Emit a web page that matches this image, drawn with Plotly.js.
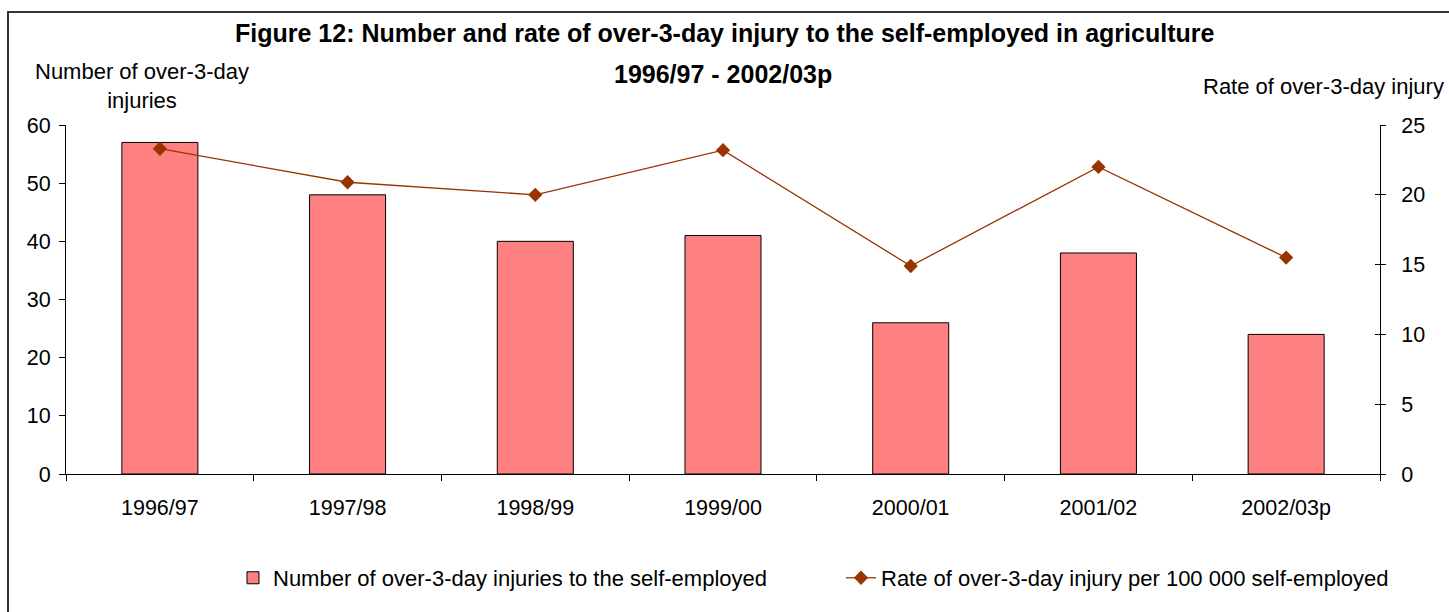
<!DOCTYPE html>
<html>
<head>
<meta charset="utf-8">
<script src="https://cdn.plot.ly/plotly-3.0.1.min.js"></script>
<style>
  html, body { margin: 0; padding: 0; background: #fff; overflow: hidden; }
  #frame { position: absolute; left: 7px; top: 11px; width: 1500px; height: 700px; border: 2px solid #333; box-sizing: border-box; pointer-events: none; z-index: 2; }
  #chart { position: absolute; left: 0; top: 0; width: 1449px; height: 612px; }
</style>
</head>
<body>
<div id="chart"></div>
<div id="frame"></div>
<script>
const categories = ["1996/97", "1997/98", "1998/99", "1999/00", "2000/01", "2001/02", "2002/03p"];
const injuries = [57, 48, 40, 41, 26, 38, 24];
const rates = [23.3, 20.9, 20.0, 23.2, 14.9, 22.0, 15.5];
const barName = "Number of over-3-day injuries to the self-employed";
const lineName = "Rate of over-3-day injury per 100 000 self-employed";

const FONT = "Liberation Sans, Arial, sans-serif";

const traces = [
  {
    type: "bar", x: categories, y: injuries, name: barName,
    marker: { color: "#FF8080", line: { color: "#000000", width: 1 } },
    hoverinfo: "y"
  },
  {
    type: "scatter", mode: "lines+markers", x: categories, y: rates, yaxis: "y2", name: lineName,
    line: { color: "#993300", width: 1.3 },
    marker: { symbol: "diamond", size: 11, color: "#993300" }
  },
  {
    type: "scatter", mode: "markers", x: categories, y: rates, yaxis: "y3",
    marker: { opacity: 0 }, showlegend: false, hoverinfo: "skip"
  }
];

const layout = {
  width: 1449, height: 612,
  margin: { l: 66, r: 69, t: 125, b: 138, autoexpand: false },
  paper_bgcolor: "rgba(0,0,0,0)", plot_bgcolor: "#fff",
  font: { family: FONT, size: 22, color: "#000" },
  bargap: 0.595,
  showlegend: true,
  legend: {
    orientation: "h", xref: "container", yref: "container",
    x: 0.1608, xanchor: "left", y: 0.0556, yanchor: "middle",
    font: { family: FONT, size: 22, color: "#000" },
    entrywidth: 563, entrywidthmode: "pixels",
    bgcolor: "rgba(0,0,0,0)"
  },
  xaxis: {
    type: "category", showline: true, linecolor: "#000", linewidth: 1,
    ticks: "outside", ticklen: 6, tickcolor: "#000", tickson: "boundaries",
    showgrid: false, zeroline: false, automargin: false,
    tickfont: { family: FONT, size: 21.5, color: "#000" },
    ticklabelstandoff: 14
  },
  yaxis: {
    range: [0, 60], dtick: 10, showline: true, linecolor: "#000", linewidth: 1,
    ticks: "outside", ticklen: 6, tickcolor: "#000",
    showgrid: false, zeroline: false, automargin: false,
    tickfont: { family: FONT, size: 21.5, color: "#000" },
    ticklabelstandoff: 4
  },
  yaxis2: {
    range: [0, 25], dtick: 5, overlaying: "y", side: "right", anchor: "x",
    showline: true, linecolor: "#000", linewidth: 1,
    ticks: "outside", ticklen: 5, tickcolor: "#000",
    showgrid: false, zeroline: false, automargin: false,
    tickfont: { family: FONT, size: 21.5, color: "#000" },
    ticklabelstandoff: 11
  },
  yaxis3: {
    range: [0, 25], dtick: 5, overlaying: "y", side: "right", anchor: "x",
    showline: false, ticks: "inside", ticklen: 5, tickcolor: "#000",
    showticklabels: false, showgrid: false, zeroline: false, automargin: false
  },
  annotations: [
    { text: "<b>Figure 12: Number and rate of over-3-day injury to the self-employed in agriculture</b>",
      xref: "paper", yref: "paper", x: 0.5015, y: 1.2636, xanchor: "center", yanchor: "middle",
      showarrow: false, font: { family: FONT, size: 25, color: "#000" } },
    { text: "<b>1996/97 - 2002/03p</b>",
      xref: "paper", yref: "paper", x: 0.5, y: 1.146, xanchor: "center", yanchor: "middle",
      showarrow: false, font: { family: FONT, size: 25, color: "#000" } },
    { text: "Number of over-3-day<br>injuries",
      xref: "paper", yref: "paper", x: 0.0578, y: 1.113, xanchor: "center", yanchor: "middle",
      showarrow: false, align: "center", font: { family: FONT, size: 22, color: "#000" } },
    { text: "Rate of over-3-day injury",
      xref: "paper", yref: "paper", x: 1.0502, y: 1.109, xanchor: "right", yanchor: "middle",
      showarrow: false, font: { family: FONT, size: 22, color: "#000" } }
  ]
};

Plotly.newPlot("chart", traces, layout, { displayModeBar: false, staticPlot: true });
</script>
</body>
</html>
